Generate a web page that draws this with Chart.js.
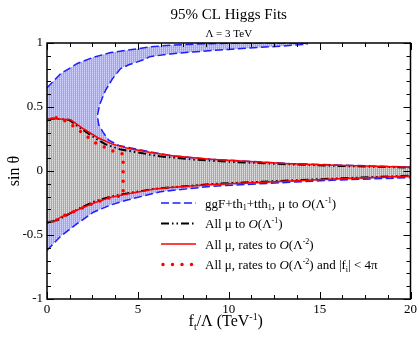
<!DOCTYPE html>
<html lang="en">
<head>
<meta charset="UTF-8">
<title>95% CL Higgs Fits</title>
<script src="https://cdn.jsdelivr.net/npm/chart.js@4.4.0/dist/chart.umd.min.js"></script>
<style>
  body { margin: 0; background: #fff; }
</style>
</head>
<body>
<canvas id="myChart" width="420" height="338"></canvas>
<script>
// tick labels
const xTicks = [0, 5, 10, 15, 20];
const yTicks = [-1, -0.5, 0, 0.5, 1];

// ggF+th1+tth1, mu to O(1/Lambda) : blue band (outer edge, inner C-shaped edge, lower edge)
const blueOuterX = [0, 0.75, 1.67, 2.58, 3.5, 4.96, 5.66, 7, 9, 11, 14.3];
const blueOuterY = [0.65, 0.76, 0.84, 0.89, 0.925, 0.955, 0.97, 0.985, 0.995, 1.0, 1.0];
const blueInnerX = [14.3, 13, 10, 8, 6.8, 5.66, 5.33, 4.5, 4.05, 3.6, 3.22, 2.9, 2.77, 2.85, 3.1, 3.4, 3.96, 4.96, 6.8, 9, 13.35, 20];
const blueInnerY = [0.99, 0.977, 0.95, 0.93, 0.915, 0.893, 0.87, 0.83, 0.80, 0.72, 0.63, 0.52, 0.43, 0.36, 0.30, 0.24, 0.20, 0.17, 0.12, 0.092, 0.058, 0.03];
const blueLowX = [0, 0.75, 1.67, 2.58, 3.5, 4.41, 6.24, 9, 13.35, 16, 20];
const blueLowY = [-0.62, -0.51, -0.41, -0.32, -0.266, -0.227, -0.162, -0.12, -0.088, -0.07, -0.052];

// All mu to O(1/Lambda) : black dash-dot (grey region)
const blackUpX = [0, 0.3, 1.2, 1.8, 2.5, 3.2, 4, 5, 6.2, 8, 10, 13.35, 16, 20];
const blackUpY = [0.40, 0.41, 0.40, 0.34, 0.27, 0.21, 0.17, 0.145, 0.115, 0.09, 0.072, 0.052, 0.04, 0.027];
const blackLowX = [0, 0.5, 1.67, 2.58, 3.5, 4.41, 6, 9, 13.35, 16, 20];
const blackLowY = [-0.40, -0.39, -0.30, -0.24, -0.20, -0.175, -0.138, -0.102, -0.074, -0.058, -0.037];

// All mu, rates to O(1/Lambda^2) : red solid
const redUpX = [0, 0.2, 1.3, 2, 2.8, 3.6, 4.5, 5.7, 7, 9, 13.35, 16, 20];
const redUpY = [0.39, 0.41, 0.40, 0.33, 0.26, 0.21, 0.175, 0.145, 0.118, 0.092, 0.057, 0.045, 0.03];
const redLowX = [0, 0.4, 0.75, 1.67, 2.58, 3.5, 4.41, 5.9, 6.8, 9, 13.35, 16, 20];
const redLowY = [-0.40, -0.395, -0.36, -0.305, -0.25, -0.206, -0.18, -0.14, -0.128, -0.105, -0.078, -0.06, -0.04];

// ... and |f_i| < 4 pi : red dotted
const dotX = [0, 0.6, 1.15, 1.65, 2.1, 2.6, 3.1, 3.6, 4.19, 4.19, 3.5, 2.58, 1.67, 0.75, 0.4, 0];
const dotY = [0.40, 0.42, 0.38, 0.33, 0.28, 0.225, 0.19, 0.158, 0.133, -0.19, -0.207, -0.25, -0.305, -0.36, -0.395, -0.40];

const FONT = "'Liberation Serif', 'DejaVu Serif', serif";

function pts(xs, ys) {
    return xs.map((x, i) => ({ x: x, y: ys[i] }));
}

function makePattern(light, mid, dark) {
    const c = document.createElement('canvas');
    c.width = 2; c.height = 2;
    const g = c.getContext('2d');
    g.fillStyle = light; g.fillRect(0, 0, 1, 1);
    g.fillStyle = mid; g.fillRect(0, 1, 1, 1);
    g.fillStyle = dark; g.fillRect(1, 0, 1, 2);
    return g.createPattern(c, 'repeat');
}

const blueFill = makePattern('#d2d2ff', '#babafc', '#a2a2f2');
const greyFill = makePattern('#e0e0e0', '#c8c8c8', '#a8a8a8');

const blueStyle = { color: '#1e1eff', width: 1.5, dash: [8, 3.5], cap: 'butt' };
const blackStyle = { color: '#000', width: 2, dash: [8, 3, 1.5, 3, 1.5, 3], cap: 'butt' };
const redStyle = { color: '#ff0000', width: 1.5, dash: [], cap: 'butt' };
const dotStyle = { color: '#ff0000', width: 3.5, dash: [0, 9.5], cap: 'round' };

function lineSet(data, st) {
    return {
        data: data, borderColor: st.color, borderWidth: st.width, borderDash: st.dash,
        borderCapStyle: st.cap, pointRadius: 0, fill: false, tension: 0
    };
}

// rich text: parts are [text, kind], kind = '' | 'i' | 'sub' | 'sup'
function fontFor(kind, size) {
    if (kind === 'sub' || kind === 'sup') return (size * 0.62) + 'px ' + FONT;
    if (kind === 'i') return 'italic ' + size + 'px ' + FONT;
    return size + 'px ' + FONT;
}
function richWidth(ctx, parts, size) {
    let w = 0;
    parts.forEach(p => {
        ctx.font = fontFor(p[1], size);
        w += ctx.measureText(p[0]).width;
    });
    return w;
}
function drawRich(ctx, parts, x, y, size) {
    ctx.textAlign = 'left';
    ctx.textBaseline = 'alphabetic';
    parts.forEach(p => {
        ctx.font = fontFor(p[1], size);
        let dy = 0;
        if (p[1] === 'sub') dy = size * 0.22;
        if (p[1] === 'sup') dy = -size * 0.36;
        ctx.fillText(p[0], x, y + dy);
        x += ctx.measureText(p[0]).width;
    });
}

const legendItems = [
    { st: blueStyle, parts: [['ggF+th', ''], ['1', 'sub'], ['+tth', ''], ['1', 'sub'], [', \u03bc to ', ''], ['O', 'i'], ['(\u039b', ''], ['-1', 'sup'], [')', '']] },
    { st: blackStyle, parts: [['All \u03bc to ', ''], ['O', 'i'], ['(\u039b', ''], ['-1', 'sup'], [')', '']] },
    { st: redStyle, parts: [['All \u03bc, rates to ', ''], ['O', 'i'], ['(\u039b', ''], ['-2', 'sup'], [')', '']] },
    { st: dotStyle, parts: [['All \u03bc, rates to ', ''], ['O', 'i'], ['(\u039b', ''], ['-2', 'sup'], [') and |f', ''], ['i', 'sub'], ['| < 4\u03c0', '']] }
];

const decor = {
    id: 'decor',
    afterDatasetsDraw(chart) {
        const { ctx, chartArea: a, scales: { x, y } } = chart;
        ctx.save();
        ctx.strokeStyle = '#000';
        ctx.lineWidth = 1;
        ctx.beginPath();
        // inside ticks on all four sides, minor every 1.25 on x and 0.1 on y
        for (let i = 0; i <= 16; i++) {
            const v = i * 1.25;
            const len = xTicks.includes(v) ? 7 : 4;
            const px = Math.round(x.getPixelForValue(v)) + 0.5;
            ctx.moveTo(px, a.bottom); ctx.lineTo(px, a.bottom - len);
            ctx.moveTo(px, a.top); ctx.lineTo(px, a.top + len);
        }
        for (let i = 0; i <= 20; i++) {
            const v = -1 + i * 0.1;
            const len = i % 5 === 0 ? 7 : 4;
            const py = Math.round(y.getPixelForValue(v)) + 0.5;
            ctx.moveTo(a.left, py); ctx.lineTo(a.left + len, py);
            ctx.moveTo(a.right, py); ctx.lineTo(a.right - len, py);
        }
        ctx.stroke();
        ctx.lineWidth = 1.5;
        ctx.strokeRect(a.left, a.top, a.right - a.left, a.bottom - a.top);
        ctx.restore();
    },
    afterDraw(chart) {
        const { ctx, chartArea: a } = chart;
        const cx = (a.left + a.right) / 2;
        ctx.save();
        ctx.fillStyle = '#000';
        ctx.textAlign = 'center';
        ctx.textBaseline = 'alphabetic';
        ctx.font = '15px ' + FONT;
        ctx.fillText('95% CL Higgs Fits', cx, 18.5);
        ctx.font = '11px ' + FONT;
        ctx.fillText('\u039b = 3 TeV', cx, 37);

        // x axis title
        const xt = [['f', ''], ['t', 'sub'], ['/\u039b (TeV', ''], ['-1', 'sup'], [')', '']];
        const w = richWidth(ctx, xt, 16);
        drawRich(ctx, xt, cx - 3 - w / 2, 326, 16);

        // y axis title
        ctx.save();
        ctx.translate(15, (a.top + a.bottom) / 2);
        ctx.rotate(-Math.PI / 2);
        ctx.font = '16px ' + FONT;
        ctx.textAlign = 'center';
        ctx.textBaseline = 'middle';
        ctx.fillText('sin \u03b8', 0, 0);
        ctx.restore();

        // legend
        legendItems.forEach((it, i) => {
            const ly = 203 + i * 20.5;
            ctx.save();
            ctx.strokeStyle = it.st.color;
            ctx.lineWidth = it.st.width;
            ctx.lineCap = it.st.cap;
            ctx.setLineDash(it.st.dash);
            ctx.beginPath();
            ctx.moveTo(i === 3 ? 163 : 161, ly);
            ctx.lineTo(196, ly);
            ctx.stroke();
            ctx.restore();
            drawRich(ctx, it.parts, 205, ly + 4.5, 13);
        });
        ctx.restore();
    }
};

const ctx = document.getElementById('myChart').getContext('2d');
const myChart = new Chart(ctx, {
    type: 'line',
    data: {
        datasets: [
            lineSet(pts(dotX, dotY), dotStyle),
            lineSet(pts(redUpX, redUpY), redStyle),
            lineSet(pts(redLowX, redLowY), redStyle),
            lineSet(pts(blackUpX, blackUpY), blackStyle),
            lineSet(pts(blackLowX, blackLowY), blackStyle),
            {
                data: pts(blackUpX, blackUpY).concat(pts(blackLowX, blackLowY).reverse()),
                borderColor: 'transparent', borderWidth: 0, backgroundColor: greyFill,
                fill: 'shape', pointRadius: 0, tension: 0
            },
            {
                data: pts(blueOuterX, blueOuterY).concat(pts(blueInnerX, blueInnerY), pts(blueLowX, blueLowY).reverse()),
                borderColor: blueStyle.color, borderWidth: blueStyle.width, borderDash: blueStyle.dash,
                backgroundColor: blueFill, fill: 'shape', pointRadius: 0, tension: 0
            }
        ]
    },
    options: {
        responsive: false,
        animation: false,
        layout: { padding: { top: 43, right: 9, left: 0, bottom: 0 } },
        plugins: { legend: { display: false }, tooltip: { enabled: false } },
        scales: {
            x: {
                type: 'linear', min: 0, max: 20,
                afterBuildTicks: s => { s.ticks = xTicks.map(v => ({ value: v })); },
                afterFit: s => { s.height = 39; },
                grid: { display: false, drawTicks: false }, border: { display: false },
                ticks: { color: '#000', padding: 3, maxRotation: 0, autoSkip: false, font: { family: FONT, size: 13 } }
            },
            y: {
                type: 'linear', min: -1, max: 1,
                afterBuildTicks: s => { s.ticks = yTicks.map(v => ({ value: v })); },
                afterFit: s => { s.width = 47; },
                grid: { display: false, drawTicks: false }, border: { display: false },
                ticks: { color: '#000', padding: 4, font: { family: FONT, size: 13 }, callback: v => String(v) }
            }
        }
    },
    plugins: [decor]
});
</script>
</body>
</html>
